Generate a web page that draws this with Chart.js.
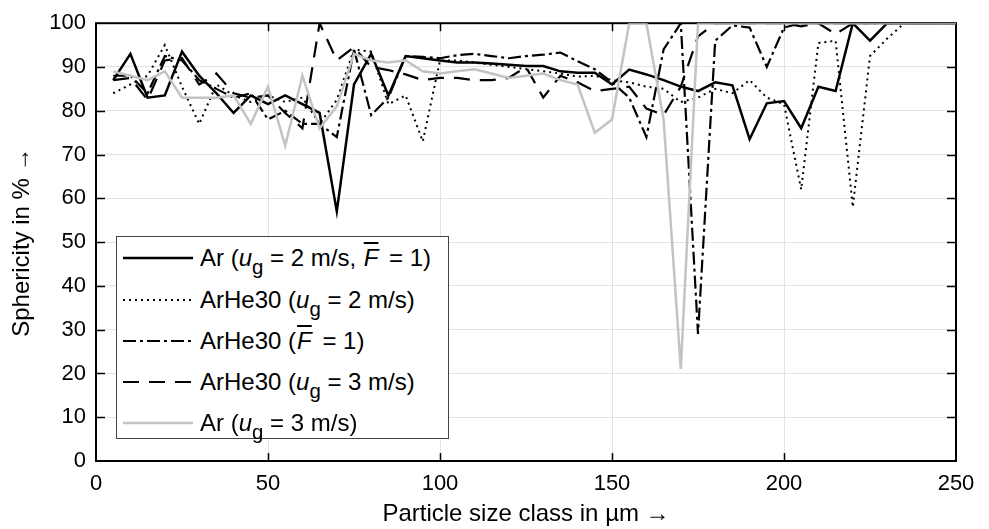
<!DOCTYPE html>
<html>
<head>
<meta charset="UTF-8">
<title>Sphericity vs particle size class</title>
<script src="https://cdn.jsdelivr.net/npm/chart.js"></script>
<style>
  html, body { margin: 0; padding: 0; background: #fff; overflow: hidden; }
  .wrap { position: relative; width: 989px; height: 529px; }
  #legend {
    position: absolute; left: 116px; top: 236px; width: 331px; height: 201px;
    border: 1px solid #444; background: #fff;
    font-family: "Liberation Sans", Arial, sans-serif; font-size: 24px; color: #000;
  }
  .row { position: absolute; left: 0; width: 100%; height: 28px; }
  .row svg { position: absolute; left: 6px; top: 11px; }
  .row .txt { position: absolute; left: 83px; top: 0; line-height: 28px; white-space: nowrap; }
  sub { font-size: 0.85em; vertical-align: -0.4em; line-height: 0; }
  .ov { text-decoration: overline; font-style: italic; margin: 0 4px 0 1px; }
</style>
</head>
<body>
<div class="wrap">
  <canvas id="chart" width="989" height="529"></canvas>
  <div id="legend">
    <div class="row" style="top:7px">
      <svg width="70" height="6"><line x1="0" y1="3" x2="70" y2="3" stroke="#000" stroke-width="2.5"/></svg>
      <span class="txt">Ar (<i>u</i><sub>g</sub> = 2 m/s, <span class="ov">F</span> = 1)</span>
    </div>
    <div class="row" style="top:49px">
      <svg width="70" height="6"><line x1="0" y1="3" x2="70" y2="3" stroke="#000" stroke-width="2" stroke-dasharray="2 4"/></svg>
      <span class="txt">ArHe30 (<i>u</i><sub>g</sub> = 2 m/s)</span>
    </div>
    <div class="row" style="top:90px">
      <svg width="70" height="6"><line x1="0" y1="3" x2="70" y2="3" stroke="#000" stroke-width="2.2" stroke-dasharray="13 4 3 4"/></svg>
      <span class="txt">ArHe30 (<span class="ov">F</span> = 1)</span>
    </div>
    <div class="row" style="top:131px">
      <svg width="70" height="6"><line x1="0" y1="3" x2="70" y2="3" stroke="#000" stroke-width="2.2" stroke-dasharray="16 10"/></svg>
      <span class="txt">ArHe30 (<i>u</i><sub>g</sub> = 3 m/s)</span>
    </div>
    <div class="row" style="top:172px">
      <svg width="70" height="6"><line x1="0" y1="3" x2="70" y2="3" stroke="#c3c3c3" stroke-width="2.5"/></svg>
      <span class="txt">Ar (<i>u</i><sub>g</sub> = 3 m/s)</span>
    </div>
  </div>
</div>
<script>
// particle size classes in µm
const sizeClasses = [5, 10, 15, 20, 25, 30, 35, 40, 45, 50, 55, 60, 65, 70, 75, 80, 85, 90, 95, 100,
  105, 110, 115, 120, 125, 130, 135, 140, 145, 150, 155, 160, 165, 170, 175, 180, 185, 190, 195, 200,
  205, 210, 215, 220, 225, 230, 235, 240, 245, 250];

// sphericity in %
const arUg2F1 = [87, 93, 83, 83.5, 93.5, 88, 84, 79.5, 83.5, 81.5, 83.5, 81.5, 79.5, 57, 86, 93, 83.5, 92.5, 92, 91.5,
  91, 91, 90.8, 90.5, 90.2, 90.2, 89, 88.7, 88.7, 86, 89.4, 88.3, 87, 85.5, 84.5, 86.5, 85.8, 73.5, 81.7, 82.2,
  76, 85.5, 84.5, 100, 96, 100, 100, 100, 100, 100];
const arHe30Ug2 = [84, 86, 88, 95, 85.5, 77, 86, 83.5, 82, 83.5, 82, 83, 77, 82.5, 94, 93.5, 81.5, 83.5, 73, 91.5,
  91.5, 91, 90.5, 90, 89.5, 89, 88.5, 87.8, 88, 87, 86.5, 85.5, 85, 82, 83, 85, 84, 87, 83, 81.5,
  62, 95.5, 96, 58, 92.5, 96.5, 100, 100, 100, 100];
const arHe30F1 = [88, 88, 84, 92.5, 91.5, 87, 85, 83, 84, 78, 80, 77, 77, 74, 94, 79, 83, 92.5, 92.3, 92,
  92.7, 93, 92.5, 92, 92.5, 92.8, 93.3, 91.3, 89.5, 86.5, 83, 74, 94, 100, 29, 96, 99.5, 99, 90, 99,
  100, 100, 100, 100, 100, 100, 100, 100, 100, 100];
const arHe30Ug3 = [87, 87.5, 82.5, 91.5, 92, 86, 88.5, 84, 83, 83.5, 79.5, 76, 100, 91.5, 94.5, 90, 89.3, 88.3, 87, 87.5,
  87.5, 87, 87, 87.5, 90, 83, 88, 86.5, 84.5, 85, 85.5, 80.5, 79, 85.5, 97, 100, 100, 100, 100, 100,
  99.3, 100, 97.5, 100, 100, 100, 100, 100, 100, 100];
const arUg3 = [89, 88, 87, 89, 83, 83, 83, 83.5, 77, 85.5, 72, 88, 76, 81, 93, 91.5, 91, 91.5, 89, 88.5,
  89, 89.5, 88.5, 87.5, 88, 88.5, 87, 86, 75, 78, 100, 100, 78, 21, 100, 100, 100, 100, 100, 100,
  100, 100, 100, 100, 100, 100, 100, 100, 100, 100];

const xTicks = [0, 50, 100, 150, 200, 250];
const yTicks = [0, 10, 20, 30, 40, 50, 60, 70, 80, 90, 100];

function pts(values) {
  return sizeClasses.map((x, i) => ({ x: x, y: values[i] }));
}

// frame around the plot plus inward tick marks on all four sides
const framePlugin = {
  id: 'frame',
  beforeDatasetsDraw(chart) {
    const { ctx, chartArea: a, scales } = chart;
    ctx.save();
    ctx.strokeStyle = '#000';
    ctx.lineWidth = 1.5;
    ctx.beginPath();
    xTicks.slice(1, -1).forEach(v => {
      const px = Math.round(scales.x.getPixelForValue(v)) + 0.5;
      ctx.moveTo(px, a.bottom); ctx.lineTo(px, a.bottom - 8);
      ctx.moveTo(px, a.top); ctx.lineTo(px, a.top + 8);
    });
    yTicks.slice(1, -1).forEach(v => {
      const py = Math.round(scales.y.getPixelForValue(v)) + 0.5;
      ctx.moveTo(a.left, py); ctx.lineTo(a.left + 9, py);
      ctx.moveTo(a.right, py); ctx.lineTo(a.right - 9, py);
    });
    ctx.stroke();
    ctx.lineWidth = 2;
    ctx.strokeRect(a.left, a.top, a.right - a.left, a.bottom - a.top);
    ctx.restore();
  }
};

const tickFont = { family: '"Liberation Sans", Arial, sans-serif', size: 22 };
const titleFont = { family: '"Liberation Sans", Arial, sans-serif', size: 24 };

new Chart(document.getElementById('chart'), {
  type: 'line',
  data: {
    datasets: [
      { label: 'Ar (ug = 2 m/s, F = 1)', data: pts(arUg2F1), borderColor: '#000', borderWidth: 2.5, order: 1 },
      { label: 'ArHe30 (ug = 2 m/s)', data: pts(arHe30Ug2), borderColor: '#000', borderWidth: 2, borderDash: [2, 4], order: 2 },
      { label: 'ArHe30 (F = 1)', data: pts(arHe30F1), borderColor: '#000', borderWidth: 2.2, borderDash: [13, 4, 3, 4], order: 3 },
      { label: 'ArHe30 (ug = 3 m/s)', data: pts(arHe30Ug3), borderColor: '#000', borderWidth: 2.2, borderDash: [16, 10], order: 4 },
      { label: 'Ar (ug = 3 m/s)', data: pts(arUg3), borderColor: '#c3c3c3', borderWidth: 2.5, order: 0 }
    ]
  },
  options: {
    responsive: false,
    animation: false,
    layout: { padding: { top: 20, right: 33, left: 0, bottom: 0 } },
    elements: { point: { radius: 0 }, line: { tension: 0, fill: false } },
    plugins: { legend: { display: false }, tooltip: { enabled: false } },
    scales: {
      x: {
        type: 'linear', min: 0, max: 250,
        afterBuildTicks: s => { s.ticks = xTicks.map(v => ({ value: v })); },
        ticks: { color: '#000', font: tickFont, padding: 10, maxRotation: 0 },
        grid: { color: '#e3e3e3', drawTicks: false },
        border: { display: false },
        title: { display: true, text: 'Particle size class in µm →', color: '#000', font: titleFont, padding: { top: 0, bottom: 0 } },
        afterFit: s => { s.height = 68; }
      },
      y: {
        min: 0, max: 100,
        afterBuildTicks: s => { s.ticks = yTicks.map(v => ({ value: v })); },
        ticks: { color: '#000', font: tickFont, padding: 10 },
        grid: { color: '#e3e3e3', drawTicks: false },
        border: { display: false },
        title: { display: true, text: 'Sphericity in % →', color: '#000', font: titleFont, padding: { top: 8, bottom: 0 } },
        afterFit: s => { s.width = 96; }
      }
    }
  },
  plugins: [framePlugin]
});
</script>
</body>
</html>
